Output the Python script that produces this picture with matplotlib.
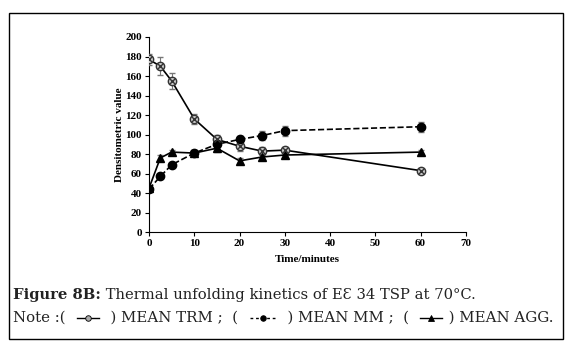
import matplotlib.pyplot as plt
from matplotlib.patches import Rectangle
from matplotlib.lines import Line2D

time = [0, 2.5, 5, 10, 15, 20, 25, 30, 60]
trm = [177, 170, 155, 116, 95, 88, 83, 84, 63]
trm_err = [6, 9, 8, 5, 5, 5, 4, 3, 2]
mm = [44, 57, 69, 81, 90, 95, 99, 104, 108]
mm_err = [3, 2, 2, 3, 4, 4, 5, 5, 5]
agg = [45, 76, 82, 81, 86, 73, 77, 79, 82]
agg_err = [3, 3, 2, 3, 4, 3, 3, 2, 2]

serif = ['Liberation Serif', 'DejaVu Serif']
cap_font = ['DejaVu Serif', 'DejaVu Sans']
W, H = 572, 349
fig = plt.figure(figsize=(5.72, 3.49), dpi=100)
ax = fig.add_axes([0.2605, 0.335, 0.554, 0.559])

ax.errorbar(time, trm, yerr=trm_err, color='black', lw=1.2, ecolor='#777777',
            elinewidth=0.8, capsize=2, marker='o', ms=6, mfc='#c8c8c8', mec='#333333', zorder=3)
ax.plot(time, trm, 'x', color='#333333', ms=4, mew=1, zorder=4)
ax.errorbar(time, mm, yerr=mm_err, color='black', lw=1.2, ls='--', ecolor='#777777',
            elinewidth=0.8, capsize=2, marker='o', ms=6, mfc='black', zorder=3)
ax.errorbar(time, agg, yerr=agg_err, color='black', lw=1.2, ecolor='#777777',
            elinewidth=0.8, capsize=2, marker='^', ms=6, mfc='black', zorder=3)

ax.set_xlim(0, 70)
ax.set_ylim(0, 200)
ax.set_xticks(range(0, 71, 10))
ax.set_yticks(range(0, 201, 20))
for s in ['top', 'right']:
    ax.spines[s].set_visible(False)
ax.tick_params(direction='out', length=3, width=0.8, labelsize=8, pad=2)
for lab in ax.get_xticklabels() + ax.get_yticklabels():
    lab.set_fontfamily(serif)
    lab.set_fontweight('bold')
ax.set_xlabel('Time/minutes', fontsize=8, fontweight='bold', family=serif, labelpad=5)
ax.set_ylabel('Densitometric value', fontsize=8, fontweight='bold', family=serif, labelpad=1)

fig.patches.append(Rectangle((9 / W, 1 - 339 / H), 554 / W, 326 / H,
                             transform=fig.transFigure, fill=False, ec='black', lw=1))

renderer = fig.canvas.get_renderer()


def icon(x0, x1, y, marker, ls='-', mfc='black', ms=4):
    yy = 1 - y / H
    fig.add_artist(Line2D([x0 / W, x1 / W], [yy, yy], color='black', lw=1, ls=ls,
                          transform=fig.transFigure))
    fig.add_artist(Line2D([(x0 + x1) / 2 / W], [yy], marker=marker, ms=ms, mfc=mfc,
                          mec='black', mew=0.6, transform=fig.transFigure))


def line(parts, x, y, size):
    # parts: (text, bold) or (None, icon_width, marker, ls, mfc)
    for p in parts:
        if p[0] is None:
            _, w, marker, ls, mfc = p
            icon(x + 2, x + w - 2, y, marker, ls=ls, mfc=mfc)
            x += w
        else:
            t = fig.text(x / W, 1 - y / H, p[0], fontsize=size, family=cap_font,
                         fontweight='bold' if p[1] else 'normal', va='center', color='#222222')
            x += t.get_window_extent(renderer).width


line([('Figure 8B:', True), (' Thermal unfolding kinetics of E\u0190 34 TSP at 70°C.', False)],
     13, 295, 10.6)
line([('Note :(  ', False), (None, 26, 'o', '-', '#aaaaaa'), ('  ) MEAN TRM ;  (  ', False),
      (None, 30, 'o', (0, (2, 2)), 'black'), ('  ) MEAN MM ;  (  ', False),
      (None, 26, '^', '-', 'black'), (' ) MEAN AGG.', False)],
     13, 318, 10.8)

fig.savefig('out.png', dpi=100)
